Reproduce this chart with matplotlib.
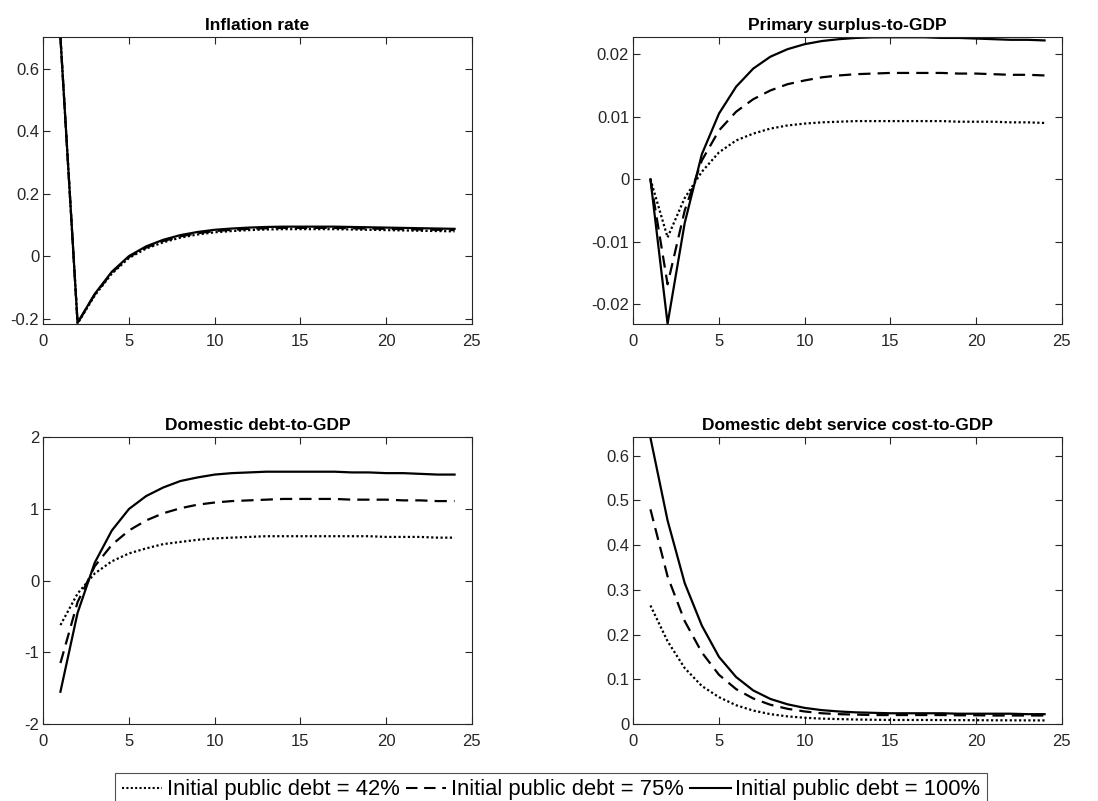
import matplotlib
matplotlib.use("Agg")
import matplotlib.pyplot as plt
from matplotlib.ticker import FuncFormatter, FixedLocator
import numpy as np

plt.rcParams['font.family'] = ['Liberation Sans', 'DejaVu Sans']
plt.rcParams['axes.unicode_minus'] = False

periods = list(range(1, 25))
labels = ["Initial public debt = 42%", "Initial public debt = 75%", "Initial public debt = 100%"]
titles = ["Inflation rate", "Primary surplus-to-GDP", "Domestic debt-to-GDP",
          "Domestic debt service cost-to-GDP"]

# Inflation rate
infl_42 = [0.70, -0.215, -0.125, -0.055, -0.005, 0.025, 0.045, 0.060, 0.070, 0.077,
           0.081, 0.084, 0.086, 0.087, 0.087, 0.087, 0.087, 0.086, 0.085, 0.084,
           0.083, 0.082, 0.081, 0.080]
infl_75 = [0.70, -0.213, -0.122, -0.052, -0.002, 0.028, 0.049, 0.064, 0.074, 0.081,
           0.085, 0.088, 0.090, 0.091, 0.091, 0.091, 0.091, 0.090, 0.089, 0.088,
           0.087, 0.086, 0.085, 0.084]
infl_100 = [0.70, -0.212, -0.120, -0.049, 0.001, 0.032, 0.053, 0.068, 0.078, 0.085,
            0.089, 0.092, 0.094, 0.095, 0.095, 0.095, 0.095, 0.094, 0.093, 0.092,
            0.091, 0.090, 0.089, 0.088]

# Primary surplus-to-GDP
ps_42 = [0.0, -0.0093, -0.0030, 0.0012, 0.0043, 0.0062, 0.0073, 0.0081, 0.0086, 0.0089,
         0.0091, 0.0092, 0.0093, 0.0093, 0.0093, 0.0093, 0.0093, 0.0093, 0.0092, 0.0092,
         0.0092, 0.0091, 0.0091, 0.0090]
ps_75 = [0.0, -0.0168, -0.0050, 0.0030, 0.0078, 0.0108, 0.0128, 0.0142, 0.0152, 0.0158,
         0.0163, 0.0166, 0.0168, 0.0169, 0.0170, 0.0170, 0.0170, 0.0170, 0.0169, 0.0169,
         0.0168, 0.0167, 0.0167, 0.0166]
ps_100 = [0.0, -0.0231, -0.0070, 0.0040, 0.0105, 0.0148, 0.0177, 0.0196, 0.0208, 0.0216,
          0.0221, 0.0224, 0.0226, 0.0227, 0.0227, 0.0227, 0.0227, 0.0226, 0.0226, 0.0225,
          0.0224, 0.0223, 0.0223, 0.0222]

# Domestic debt-to-GDP
dd_42 = [-0.62, -0.18, 0.10, 0.27, 0.38, 0.45, 0.51, 0.54, 0.57, 0.59,
         0.60, 0.61, 0.62, 0.62, 0.62, 0.62, 0.62, 0.62, 0.62, 0.61,
         0.61, 0.61, 0.60, 0.60]
dd_75 = [-1.15, -0.30, 0.20, 0.50, 0.70, 0.84, 0.94, 1.01, 1.06, 1.09,
         1.11, 1.12, 1.13, 1.14, 1.14, 1.14, 1.14, 1.13, 1.13, 1.13,
         1.12, 1.12, 1.11, 1.11]
dd_100 = [-1.55, -0.45, 0.25, 0.70, 1.00, 1.18, 1.30, 1.39, 1.44, 1.48,
          1.50, 1.51, 1.52, 1.52, 1.52, 1.52, 1.52, 1.51, 1.51, 1.50,
          1.50, 1.49, 1.48, 1.48]

# Domestic debt service cost-to-GDP
ds_42 = [0.265, 0.185, 0.125, 0.085, 0.060, 0.042, 0.030, 0.022, 0.017, 0.014,
         0.012, 0.011, 0.010, 0.0095, 0.009, 0.009, 0.009, 0.0088, 0.0086, 0.0085,
         0.0083, 0.0082, 0.0081, 0.008]
ds_75 = [0.480, 0.330, 0.230, 0.160, 0.110, 0.078, 0.057, 0.043, 0.034, 0.028,
         0.024, 0.022, 0.021, 0.020, 0.020, 0.020, 0.020, 0.020, 0.0195, 0.0195,
         0.019, 0.019, 0.019, 0.019]
ds_100 = [0.640, 0.455, 0.315, 0.220, 0.150, 0.105, 0.075, 0.056, 0.044, 0.036,
          0.031, 0.028, 0.026, 0.025, 0.024, 0.024, 0.024, 0.024, 0.023, 0.023,
          0.023, 0.023, 0.022, 0.022]

panels = [
    (infl_42, infl_75, infl_100, (-0.216, 0.70), [-0.2, 0, 0.2, 0.4, 0.6]),
    (ps_42, ps_75, ps_100, (-0.02315, 0.0227), [-0.02, -0.01, 0, 0.01, 0.02]),
    (dd_42, dd_75, dd_100, (-2, 2), [-2, -1, 0, 1, 2]),
    (ds_42, ds_75, ds_100, (0, 0.641), [0, 0.1, 0.2, 0.3, 0.4, 0.5, 0.6]),
]

W, H = 1098, 801
fig = plt.figure(figsize=(W / 100, H / 100), dpi=100)

lefts = [43.3, 633.3]
tops = [37.3, 437.3]
aw, ah = 428.4, 286.7
positions = [(lefts[0], tops[0]), (lefts[1], tops[0]), (lefts[0], tops[1]), (lefts[1], tops[1])]

edge = '#262626'
fmt = FuncFormatter(lambda v, p: ('%g' % round(v, 6)))

styles = [dict(linestyle=(0, (1, 1.1)), linewidth=1.6),
          dict(linestyle=(0, (5.5, 3.2)), linewidth=1.6),
          dict(linestyle='-', linewidth=1.6)]

handles = None
for (px, py), (a, b, c, ylim, yt), title in zip(positions, panels, titles):
    ax = fig.add_axes([px / W, 1 - (py + ah) / H, aw / W, ah / H])
    hs = []
    for series, st, lab in zip((a, b, c), styles, labels):
        h, = ax.plot(periods, series, color='black', label=lab, **st)
        hs.append(h)
    handles = hs
    ax.set_xlim(0, 25)
    ax.set_ylim(*ylim)
    ax.xaxis.set_major_locator(FixedLocator([0, 5, 10, 15, 20, 25]))
    ax.yaxis.set_major_locator(FixedLocator(yt))
    ax.yaxis.set_major_formatter(fmt)
    ax.xaxis.set_major_formatter(fmt)
    ax.tick_params(direction='in', top=True, right=True, labelsize=12,
                   colors=edge, length=5, width=0.8)
    ax.tick_params(axis='x', pad=7)
    ax.tick_params(axis='y', pad=3)
    for s in ax.spines.values():
        s.set_color(edge)
        s.set_linewidth(0.8)
    ax.set_title(title, fontsize=12.5, fontweight='bold', pad=5)

leg = fig.legend(handles, labels, loc='upper left', ncol=3,
                 bbox_to_anchor=(115 / W, 1 - 772.7 / H), fontsize=15.8,
                 frameon=True, fancybox=False, edgecolor='#262626',
                 handlelength=1.85, handletextpad=0.2, columnspacing=0.3,
                 borderpad=0.3, borderaxespad=0)
leg.get_frame().set_linewidth(0.8)
for l in leg.get_lines():
    l.set_linewidth(1.5)

fig.savefig('out.png', dpi=100)
